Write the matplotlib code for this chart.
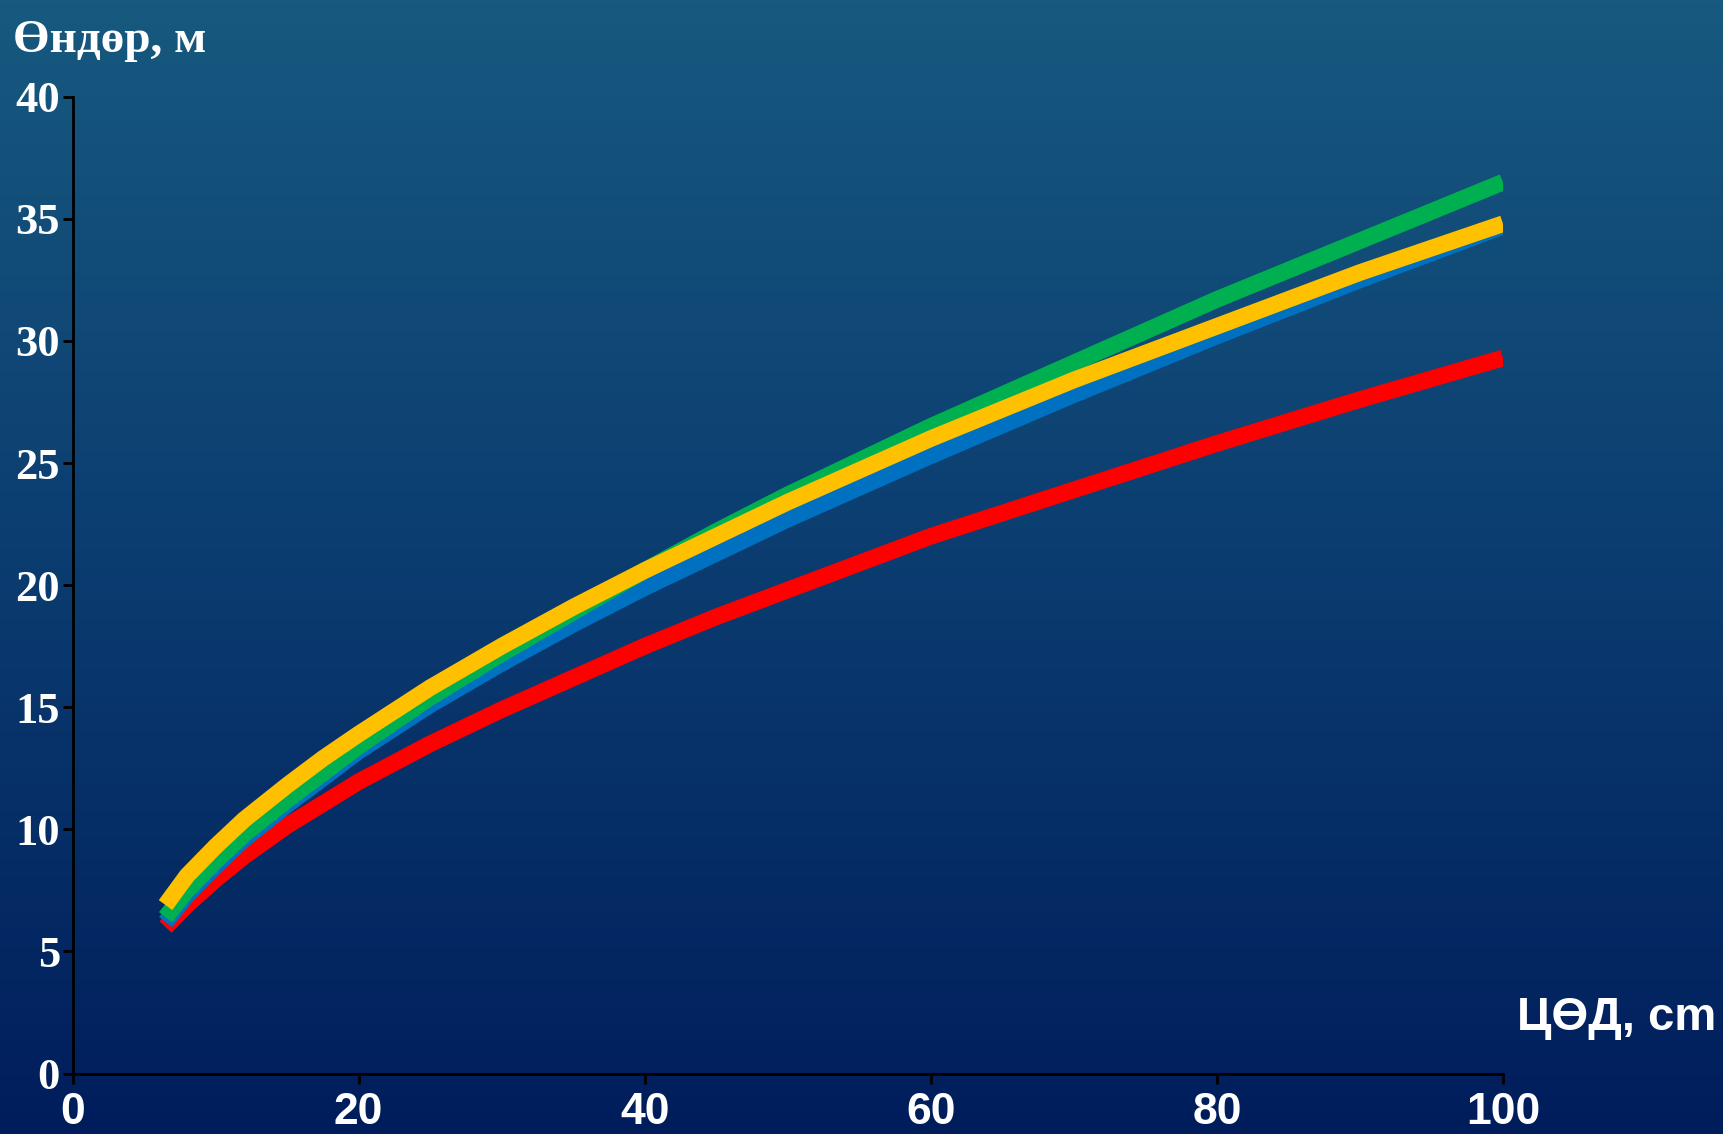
import numpy as np
import matplotlib
matplotlib.use("Agg")
import matplotlib.pyplot as plt
from matplotlib.colors import LinearSegmentedColormap

# DBH (cm) and height (m)
dbh = [6.5, 8, 10, 12, 15, 17.5, 20, 25, 30, 35, 40, 45, 50, 60, 70, 80, 90, 100]
h_red = [6.0, 6.9, 7.95, 8.9, 10.15, 11.05, 11.95, 13.5, 14.9, 16.2, 17.5, 18.7, 19.8, 22.0, 23.9, 25.8, 27.6, 29.3]
h_blue = [6.2, 7.3, 8.5, 9.6, 11.0, 12.1, 13.2, 15.1, 16.8, 18.4, 19.9, 21.3, 22.7, 25.3, 27.8, 30.2, 32.5, 34.7]
h_green = [6.4, 7.5, 8.7, 9.8, 11.2, 12.3, 13.4, 15.4, 17.2, 18.9, 20.6, 22.2, 23.7, 26.5, 29.1, 31.7, 34.1, 36.5]
h_yellow = [6.9, 8.1, 9.3, 10.4, 11.8, 12.9, 13.9, 15.8, 17.5, 19.1, 20.6, 22.0, 23.4, 26.0, 28.4, 30.6, 32.8, 34.8]

xticks = [0, 20, 40, 60, 80, 100]
yticks = [0, 5, 10, 15, 20, 25, 30, 35, 40]

serif = ["Liberation Serif", "DejaVu Serif"]
sans = ["Liberation Sans", "DejaVu Sans"]

fig = plt.figure(figsize=(17.23, 11.34), dpi=100)

# gradient background, teal blue on top to navy at the bottom
bg = fig.add_axes([0, 0, 1, 1], zorder=-1)
cmap = LinearSegmentedColormap.from_list("bg", ["#17597f", "#0b3c70", "#001d5b"])
grad = np.linspace(0, 1, 256).reshape(-1, 1)
bg.imshow(grad, aspect="auto", cmap=cmap, extent=[0, 1, 0, 1])
bg.axis("off")

ax = fig.add_axes([0.0421, 0.0533, 0.8302, 0.8614])
ax.set_facecolor("none")

lw = 12
ax.plot(dbh, h_red, color="#ff0000", lw=lw, solid_capstyle="butt", solid_joinstyle="round")
ax.plot(dbh, h_blue, color="#0070c0", lw=lw, solid_capstyle="butt", solid_joinstyle="round")
ax.plot(dbh, h_green, color="#00b050", lw=lw, solid_capstyle="butt", solid_joinstyle="round")
ax.plot(dbh, h_yellow, color="#ffc000", lw=lw, solid_capstyle="butt", solid_joinstyle="round")

ax.set_xlim(0, 100)
ax.set_ylim(0, 40)
ax.set_xticks(xticks)
ax.set_yticks(yticks)
ax.set_xticklabels([str(t) for t in xticks], family=sans, fontweight="bold", fontsize=32, color="white")
ax.set_yticklabels([str(t) for t in yticks], family=serif, fontweight="bold", fontsize=32, color="white")
ax.tick_params(axis="both", direction="out", length=7, width=2, color="black")
ax.tick_params(axis="x", pad=6)
ax.tick_params(axis="y", pad=2)

for s in ["top", "right"]:
    ax.spines[s].set_visible(False)
for s in ["left", "bottom"]:
    ax.spines[s].set_color("black")
    ax.spines[s].set_linewidth(2)

fig.text(13 / 1723, 1 - 52 / 1134, "Өндөр, м", family=serif, fontweight="bold",
         fontsize=34, color="white", ha="left", va="baseline")
fig.text(1716 / 1723, 1 - 1030 / 1134, "ЦӨД, cm", family=sans, fontweight="bold",
         fontsize=34, color="white", ha="right", va="baseline")

fig.savefig("out.png", dpi=100)
